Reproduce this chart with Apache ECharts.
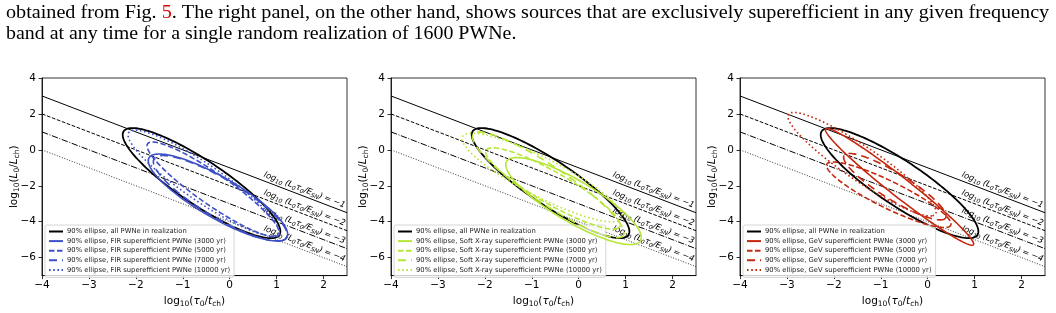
<!DOCTYPE html>
<html>
<head>
<meta charset="utf-8">
<script src="https://cdn.jsdelivr.net/npm/echarts@6/dist/echarts.min.js"></script>
<style>
html, body { margin: 0; padding: 0; background: #fff; }
#chart { width: 1056px; height: 313px; }
</style>
</head>
<body>
<div id="chart"></div>
<script>
// ticks and levels
var xTicks = [-4, -3, -2, -1, 0, 1, 2];
var yTicks = [-6, -4, -2, 0, 2, 4];
var isoLevels = [-1, -2, -3, -4];
var ages = ['3000 yr', '5000 yr', '7000 yr', '10000 yr'];
var bands = ['FIR', 'Soft X-ray', 'GeV'];
var bandColors = ['#3f50c6', '#b6e636', '#c4280f'];

// 90% ellipses: [centre x, centre y, semi-major, semi-minor, angle in degrees]
var allPwne = [-0.6, -1.85, 3.42, 0.72, -63];
var firEllipses = [
    [-0.25, -2.65, 2.75, 0.7, -60.5],
    [-0.35, -2.2, 2.95, 0.5, -63],
    [-0.2, -2.7, 2.7, 0.65, -61],
    [-0.56, -1.85, 3.3, 0.6, -62.7]
];
var xrayEllipses = [
    [-0.11, -2.85, 2.73, 0.7, -61.4],
    [-0.55, -2.15, 2.62, 0.55, -59],
    [-0.65, -1.95, 3.3, 0.6, -62.5],
    [-0.78, -1.54, 2.92, 0.7, -56.7]
];
var gevEllipses = [
    [-0.6, -2.06, 3.6, 0.3, -64.4],
    [-0.83, -2.5, 2.2, 0.5, -55],
    [-0.7, -2.05, 2.1, 0.45, -61],
    [-1.4, -0.8, 3.24, 0.55, -62.4]
];
var bandEllipses = [firEllipses, xrayEllipses, gevEllipses];

var ageDash = ['solid', [5.5, 2.5], [8, 5], [1.6, 2.6]];
var isoDash = ['solid', [3.7, 1.6], [6.4, 1.6, 1, 1.6], [1, 1.65]];
var allName = '90% ellipse, all PWNe in realization';

var gridLefts = [42, 391, 740];
var font = 'DejaVu Sans';

function minus(v) { return v < 0 ? '\u2212' + (-v) : String(v); }

function ellipseRender(color, dash, width) {
    return function (params, api) {
        var cx = api.value(0), cy = api.value(1), a = api.value(2), b = api.value(3);
        var t = api.value(4) * Math.PI / 180;
        var pts = [];
        for (var k = 0; k <= 160; k++) {
            var s = k / 160 * 2 * Math.PI;
            var u = a * Math.cos(s), v = b * Math.sin(s);
            pts.push(api.coord([cx + u * Math.cos(t) - v * Math.sin(t), cy + u * Math.sin(t) + v * Math.cos(t)]));
        }
        return {
            type: 'polyline',
            shape: { points: pts },
            style: { stroke: color, lineWidth: width, lineDash: dash === 'solid' ? null : dash, fill: null }
        };
    };
}

var labelRich = {
    i: { fontSize: 8.3, fontStyle: 'italic', fontFamily: font, fill: '#000', lineHeight: 11, verticalAlign: 'middle' },
    s: { fontSize: 5.8, fontStyle: 'italic', fontFamily: font, fill: '#000', lineHeight: 11, verticalAlign: 'bottom' }
};

function isoRender(params, api) {
    var c = api.value(0);
    var p1 = api.coord([-4, c + 4]);
    var p2 = api.coord([2.5, c - 2.5]);
    var ang = Math.atan2(p2[1] - p1[1], p2[0] - p1[0]);
    var pm = api.coord([1.55, c - 1.55]);
    var off = 6;
    var tx = pm[0] + Math.sin(ang) * off, ty = pm[1] - Math.cos(ang) * off;
    return {
        type: 'group',
        children: [{
            type: 'line',
            shape: { x1: p1[0], y1: p1[1], x2: p2[0], y2: p2[1] },
            style: { stroke: '#000', lineWidth: params.dataIndex === 3 ? 0.8 : 1, lineDash: params.dataIndex === 0 ? null : isoDash[params.dataIndex] }
        }, {
            type: 'text',
            x: tx, y: ty, rotation: -ang,
            style: {
                text: '{i|log}{s|10}{i| (L}{s|0}{i|\u03c4}{s|0}{i|/E}{s|SN}{i|) = ' + minus(c) + '}',
                rich: labelRich, align: 'center', verticalAlign: 'middle'
            }
        }]
    };
}

var nameRich = {
    n: { fontSize: 10.5, fontFamily: font, color: '#000', lineHeight: 14, verticalAlign: 'middle' },
    i: { fontSize: 10.5, fontFamily: font, fontStyle: 'italic', color: '#000', lineHeight: 14, verticalAlign: 'middle' },
    s: { fontSize: 7.5, fontFamily: font, color: '#000', lineHeight: 14, verticalAlign: 'bottom' }
};

var grids = [], xAxes = [], yAxes = [], series = [], legends = [];
for (var p = 0; p < 3; p++) {
    grids.push({ left: gridLefts[p], top: 78, width: 305, height: 203, show: true, borderColor: '#000', borderWidth: 0.8, backgroundColor: 'transparent' });
    xAxes.push({
        gridIndex: p, type: 'value', min: -4, max: 2.5,
        axisLine: { show: true, onZero: false, lineStyle: { color: '#000', width: 0.8 } },
        splitLine: { show: false },
        axisTick: { customValues: xTicks, length: 3.5, lineStyle: { color: '#000', width: 0.8 } },
        axisLabel: { customValues: xTicks, formatter: minus, color: '#000', fontSize: 10.5, fontFamily: font, margin: 4 },
        name: '{n|log}{s|10}{n|(}{i|\u03c4}{s|0}{n|/}{i|t}{s|ch}{n|)}',
        nameLocation: 'middle', nameGap: 14,
        nameTextStyle: { rich: nameRich, verticalAlign: 'top' }
    });
    yAxes.push({
        gridIndex: p, type: 'value', min: -7, max: 4,
        axisLine: { show: true, onZero: false, lineStyle: { color: '#000', width: 0.8 } },
        splitLine: { show: false },
        axisTick: { customValues: yTicks, length: 3.5, lineStyle: { color: '#000', width: 0.8 } },
        axisLabel: { customValues: yTicks, formatter: minus, color: '#000', fontSize: 10.5, fontFamily: font, margin: 6 },
        name: '{n|log}{s|10}{n|(}{i|L}{s|0}{n|/}{i|L}{s|ch}{n|)}',
        nameLocation: 'middle', nameGap: 21, nameMoveOverlap: false,
        nameTextStyle: { rich: nameRich }
    });

    // constant-energy lines with their labels
    series.push({
        type: 'custom', xAxisIndex: p, yAxisIndex: p, clip: true, z: 2,
        data: isoLevels.map(function (c) { return [c]; }),
        renderItem: isoRender, silent: true
    });
    // all PWNe ellipse
    series.push({
        type: 'custom', xAxisIndex: p, yAxisIndex: p, clip: true, z: 3,
        data: [allPwne], renderItem: ellipseRender('#000', 'solid', 1.8), silent: true
    });
    series.push({
        type: 'line', name: allName, xAxisIndex: p, yAxisIndex: p, data: [], symbol: 'none',
        itemStyle: { color: '#000', opacity: 0 },
        lineStyle: { color: '#000', width: 1.8 }
    });
    var names = [allName];
    for (var k = 0; k < 4; k++) {
        var nm = '90% ellipse, ' + bands[p] + ' superefficient PWNe (' + ages[k] + ')';
        names.push(nm);
        series.push({
            type: 'custom', xAxisIndex: p, yAxisIndex: p, clip: true, z: 4,
            data: [bandEllipses[p][k]], renderItem: ellipseRender(bandColors[p], ageDash[k], 1.6), silent: true
        });
        series.push({
            type: 'line', name: nm, xAxisIndex: p, yAxisIndex: p, data: [], symbol: 'none',
            itemStyle: { color: bandColors[p], opacity: 0 },
            lineStyle: { color: bandColors[p], width: 1.6, type: ageDash[k] }
        });
    }
    legends.push({
        data: names, orient: 'vertical', left: gridLefts[p] + 3, top: 225,
        itemWidth: 14, itemHeight: 8, itemGap: 2.6,
        itemStyle: { opacity: 0 },
        textStyle: { fontSize: 6.8, fontFamily: font, color: '#222', padding: [0, 0, 0, -1] },
        padding: [3, 4, 4, 3], borderColor: '#ccc', borderWidth: 0.8, borderRadius: 2,
        backgroundColor: 'rgba(255,255,255,0.8)', selectedMode: false
    });
}

var chart = echarts.init(document.getElementById('chart'), null, { renderer: 'canvas' });
chart.setOption({
    backgroundColor: '#fff',
    animation: false,
    grid: grids, xAxis: xAxes, yAxis: yAxes, legend: legends, series: series,
    graphic: [{
        type: 'text', left: 6, top: 4, scaleX: 1.12,
        style: {
            text: '{t|obtained from Fig. }{r|5}{t|. The right panel, on the other hand, shows sources that are exclusively superefficient in any given frequency}',
            rich: {
                t: { fontSize: 18, fontFamily: 'Liberation Serif', fill: '#000' },
                r: { fontSize: 18, fontFamily: 'Liberation Serif', fill: '#d00' }
            }
        }
    }, {
        type: 'text', left: 6, top: 25, scaleX: 1.105,
        style: { text: 'band at any time for a single random realization of 1600 PWNe.', fontSize: 18, fontFamily: 'Liberation Serif', fill: '#000' }
    }]
});
</script>
</body>
</html>
